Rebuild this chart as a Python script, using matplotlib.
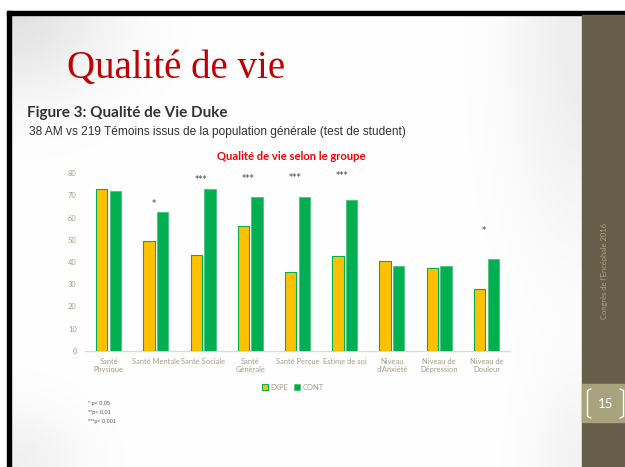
import numpy as np
import matplotlib
matplotlib.use("Agg")
import matplotlib.pyplot as plt
from matplotlib.patches import Rectangle
from matplotlib.lines import Line2D

# ---- data -------------------------------------------------------------
categories = ["Santé\nPhysique", "Santé Mentale", "Santé Sociale", "Santé\nGénérale",
              "Santé Perçue", "Estime de soi", "Niveau\nd'Anxiété",
              "Niveau de\nDépression", "Niveau de\nDouleur"]
expe = [72.9, 49.5, 43.3, 56.1, 35.3, 42.7, 40.3, 37.1, 27.7]
cont = [72.0, 62.7, 72.8, 69.3, 69.3, 68.0, 38.3, 38.3, 41.2]
series_names = ["EXPE", "CONT"]
stars = ["", "*", "***", "***", "***", "***", "", "", "*"]
star_y = [0, 66.6, 77.4, 77.7, 78.2, 79.2, 0, 0, 54.4]
y_ticks = [0, 10, 20, 30, 40, 50, 60, 70, 80]
footnotes = ["* p< 0,05", "**p< 0,01", "***p< 0,001"]

W, H = 625, 467
fig = plt.figure(figsize=(W / 100, H / 100), dpi=100)
fig.patch.set_facecolor("white")


def fx(px):
    return px / W


def fy(py):
    return 1 - py / H


# ---- slide background with soft shading ---------------------------------
bg = fig.add_axes([0, 0, 1, 1], zorder=-10)
bg.set_xlim(0, W)
bg.set_ylim(H, 0)
bg.axis("off")
yy, xx = np.mgrid[0:H, 0:W]
shade = np.zeros((H, W))
shade += 0.11 * np.exp(-(((xx - 10) / 100.0) ** 2 + ((yy - 15) / 80.0) ** 2))
shade += 0.07 * np.exp(-(((xx - 582) / 70.0) ** 2)) * np.exp(-((yy - 40) / 200.0) ** 2)
shade += 0.06 * np.exp(-(((xx - 10) / 70.0) ** 2 + ((yy - 467) / 60.0) ** 2))
shade += 0.05 * np.exp(-(((xx - 582) / 50.0) ** 2 + ((yy - 467) / 90.0) ** 2))
img = np.clip(1 - shade, 0, 1)
bg.imshow(np.dstack([img, img, img]), extent=(0, W, H, 0), aspect="auto", zorder=0)
# white margins outside the slide frame
bg.add_patch(Rectangle((0, 0), W, 11, color="white", zorder=1))
bg.add_patch(Rectangle((0, 0), 7, H, color="white", zorder=1))
# black frame
bg.add_patch(Rectangle((7, 11), W - 7, 4, color="black", zorder=2))
bg.add_patch(Rectangle((7, 11), 4, H - 11, color="black", zorder=2))
# sidebar
bg.add_patch(Rectangle((582, 15), W - 582, H - 15, color="#665e48", zorder=2))
bg.add_patch(Rectangle((582, 384), W - 582, 38, color="#a8a37e", zorder=3))
# page-number brackets
bg.add_line(Line2D([591, 587.5, 587.5, 591], [389, 390.5, 416.5, 418],
                   color="white", lw=1.0, zorder=4, solid_capstyle="round"))
bg.add_line(Line2D([620, 623.5, 623.5, 620], [389, 390.5, 416.5, 418],
                   color="white", lw=1.0, zorder=4, solid_capstyle="round"))
bg.text(605.5, 403.5, "15", color="white", fontsize=9.5, family="Lato",
        ha="center", va="center", zorder=5)
bg.text(604, 271, "Congrès de l'Encéphale 2016", color="#aaa584", fontsize=5.4,
        family="Lato", rotation=90, ha="center", va="center", zorder=5)

# ---- slide texts -------------------------------------------------------
fig.text(fx(67), fy(78), "Qualité de vie", color="#c00000", fontsize=28,
         family="Liberation Serif", ha="left", va="baseline")
fig.text(fx(27), fy(117), "Figure 3: Qualité de Vie Duke", color="#333333",
         fontsize=11, family="Lato", weight="bold", ha="left", va="baseline")
fig.text(fx(29), fy(134.5),
         "38 AM vs 219 Témoins issus de la population générale (test de student)",
         color="#333333", fontsize=8.6, family="Liberation Sans", ha="left", va="baseline")
fig.text(fx(291.5), fy(160), "Qualité de vie selon le groupe", color="#ff0000",
         fontsize=8.1, family="Lato", weight="bold", ha="center", va="baseline")
for i, note in enumerate(footnotes):
    fig.text(fx(88), fy(405 + 9 * i), note, color="#555555", fontsize=3.9,
             family="Liberation Sans", ha="left", va="baseline")

# ---- chart ---------------------------------------------------------------
x0, x1 = 85, 510
yb, yt = 350.7, 173.3
ax = fig.add_axes([fx(x0), fy(yb), fx(x1 - x0), (yb - yt) / H])
ax.patch.set_alpha(0)
x = np.arange(len(categories))
bw = 0.24
off = 0.145
ax.bar(x - off, expe, bw, color="#ffc000", edgecolor="#00b050", linewidth=0.8,
       label=series_names[0], zorder=3)
ax.bar(x + off, cont, bw, color="#00b050", edgecolor="#4cc47c", linewidth=0.6,
       label=series_names[1], zorder=3)
ax.set_xlim(-0.5, len(categories) - 0.5)
ax.set_ylim(0, 80)
ax.set_yticks(y_ticks)
ax.set_xticks(x)
ax.set_xticklabels(categories, fontsize=5.4, color="#a39d88", family="Lato",
                   linespacing=1.25)
for lab in ax.get_yticklabels():
    lab.set_fontsize(5.4)
    lab.set_color("#a39d88")
    lab.set_family("Lato")
ax.tick_params(axis="both", length=0)
ax.tick_params(axis="y", pad=6)
ax.tick_params(axis="x", pad=5)
for side in ["left", "right", "top"]:
    ax.spines[side].set_visible(False)
ax.spines["bottom"].set_color("#d9d9d9")
ax.spines["bottom"].set_linewidth(0.9)

for i, (s, sy) in enumerate(zip(stars, star_y)):
    if s:
        ax.text(i - 0.05, sy, s, ha="center", va="center", fontsize=6,
                color="#404040", family="DejaVu Sans")

leg = fig.legend(loc="center", bbox_to_anchor=(fx(293), fy(387)), ncol=2,
                 frameon=False, fontsize=5.4, handlelength=0.8, handleheight=0.8,
                 handletextpad=0.3, columnspacing=0.8, borderpad=0)
for t in leg.get_texts():
    t.set_color("#a39d88")
    t.set_family("Lato")

fig.savefig("out.png", dpi=100)
